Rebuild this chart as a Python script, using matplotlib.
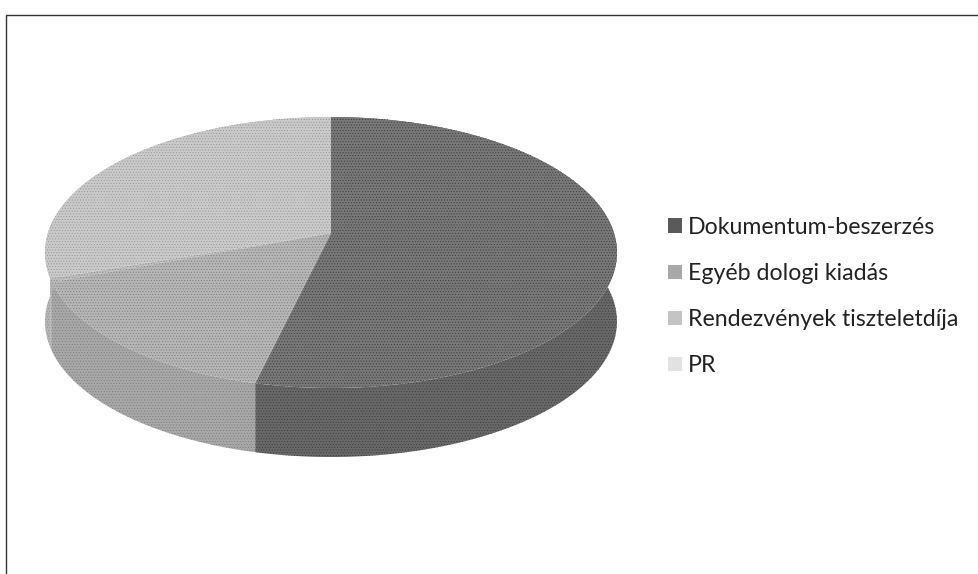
import numpy as np
import matplotlib
matplotlib.use('Agg')
import matplotlib.pyplot as plt
from matplotlib.patches import Rectangle

plt.rcParams['font.family'] = ['Lato', 'DejaVu Sans']
plt.rcParams['hatch.linewidth'] = 0.4

labels = ['Dokumentum-beszerzés', 'Egyéb dologi kiadás',
          'Rendezvények tiszteletdíja', 'PR']
values = [53.7, 15.6, 0.4, 30.3]
top_colors = ['#787878', '#b6b6b6', '#bcbcbc', '#cacaca']
wall_colors = ['#686868', '#a8a8a8', '#aeaeae', '#b4b4b4']
hatch_colors = ['#3c3c3c', '#7c7c7c', '#868686', '#969696']
swatch_colors = ['#5a5a5a', '#a8a8a8', '#c4c4c4', '#e2e2e2']

# pie geometry in pixels, with the perspective of the spreadsheet 3d pie
cx, cy = 331., 233.
a, b, k = 283., 132.7, 0.144
depth = 69.


def project(theta):
    # theta runs clockwise from twelve o'clock
    u, v = np.sin(theta), np.cos(theta)
    w = 1. + k * v
    return cx + a * u / w, cy - b * v / w


fig = plt.figure(figsize=(9.79, 5.74), dpi=100)
ax = fig.add_axes([0, 0, 1, 1])
ax.set_xlim(0, 979)
ax.set_ylim(574, 0)
ax.axis('off')

# frame of the scanned page
ax.plot([6.5, 6.5, 979], [574, 14.5, 14.5], color='#333333', lw=1.0)

edges = 2. * np.pi * np.cumsum([0.] + values) / np.sum(values)
for i in range(len(values)):
    t = np.linspace(edges[i], edges[i + 1], 120)
    x, y = project(t)
    ax.fill(np.r_[x, x[::-1]], np.r_[y, y[::-1] + depth],
            facecolor=wall_colors[i], hatch='......',
            edgecolor=hatch_colors[i], lw=0, zorder=2)
for i in range(len(values)):
    t = np.linspace(edges[i], edges[i + 1], 120)
    x, y = project(t)
    ax.fill(np.r_[cx, x], np.r_[cy, y],
            facecolor=top_colors[i], hatch='......',
            edgecolor=hatch_colors[i], lw=0, zorder=3)

handles = [Rectangle((0, 0), 1, 1, facecolor=c, edgecolor='none') for c in swatch_colors]
leg = ax.legend(handles, labels, loc='upper left', bbox_to_anchor=(668, 217),
                bbox_transform=ax.transData, frameon=False, fontsize=16.7,
                handlelength=0.6, handleheight=0.6, handletextpad=0.26,
                labelspacing=1.08, labelcolor='#222222', borderpad=0, borderaxespad=0)

fig.savefig('out.png', dpi=100)
